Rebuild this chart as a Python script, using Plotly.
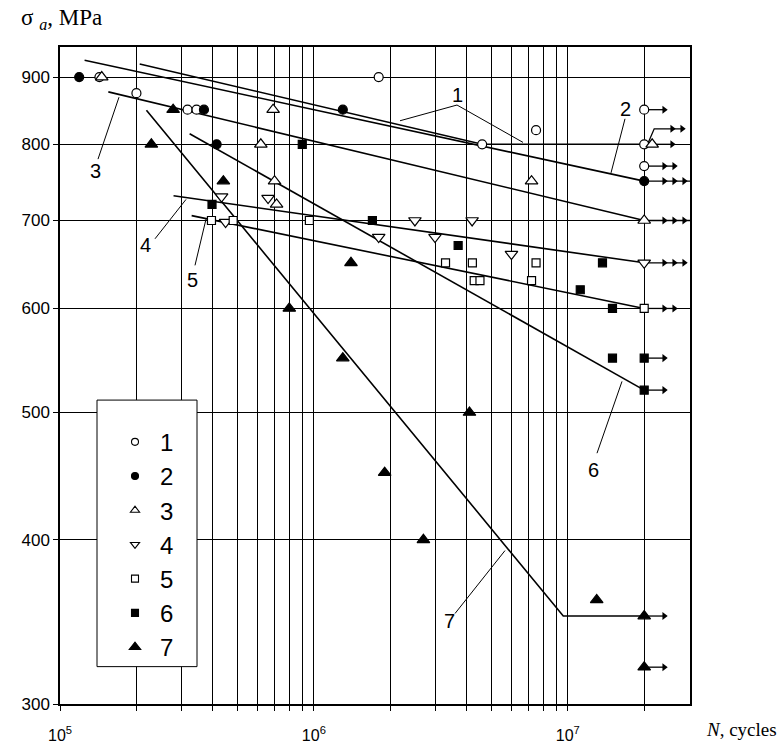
import numpy as np
import plotly.graph_objects as go

# ---------------- data ----------------
# series 1 : open circles
s1_N = [1.43e5, 2.0e5, 3.18e5, 3.45e5, 1.8e6, 4.6e6, 7.5e6, 2.0e7, 2.0e7, 2.0e7]
s1_S = [900, 875, 850, 850, 900, 800, 820, 850, 800, 770]
# series 2 : filled circles
s2_N = [1.19e5, 3.69e5, 4.14e5, 1.3e6, 2.0e7]
s2_S = [900, 850, 800, 850, 750]
# series 3 : open triangles up
s3_N = [1.46e5, 6.18e5, 6.91e5, 7.0e5, 7.13e5, 7.2e6, 2.15e7, 2.0e7]
s3_S = [900, 800, 850, 750, 720, 750, 800, 700]
# series 4 : open triangles down
s4_N = [4.33e5, 4.49e5, 6.6e5, 1.8e6, 2.5e6, 3.0e6, 4.2e6, 6.0e6, 2.0e7]
s4_S = [730, 698, 728, 680, 700, 680, 700, 660, 650]
# series 5 : open squares
s5_N = [3.95e5, 4.81e5, 9.6e5, 3.3e6, 4.21e6, 4.28e6, 4.51e6, 7.2e6, 7.5e6, 2.0e7]
s5_S = [700, 700, 700, 650, 650, 630, 630, 630, 650, 600]
# series 6 : filled squares
s6_N = [3.97e5, 9.0e5, 1.7e6, 3.7e6, 1.12e7, 1.37e7, 1.5e7, 1.5e7, 2.0e7, 2.0e7]
s6_S = [720, 800, 700, 670, 620, 650, 600, 550, 550, 520]
# series 7 : filled triangles up
s7_N = [2.29e5, 2.79e5, 4.4e5, 8.0e5, 1.3e6, 1.4e6, 1.9e6, 2.7e6, 4.1e6, 1.3e7, 2.0e7, 2.0e7]
s7_S = [800, 850, 750, 600, 550, 650, 450, 400, 500, 360, 350, 320]

series_names = ["1", "2", "3", "4", "5", "6", "7"]

# fitted S-N curves (knots)
c1_N = [2.06e5, 4.6e6, 2.0e7]; c1_S = [921, 800, 800]
c2_N = [1.25e5, 2.0e7];        c2_S = [927, 750]
c3_N = [1.55e5, 2.0e7];        c3_S = [877, 700]
c4_N = [2.8e5, 2.0e7];         c4_S = [731, 650]
c5_N = [3.3e5, 2.0e7];         c5_S = [706, 600]
c6_N = [3.24e5, 2.0e7];        c6_S = [815, 520]
c7_N = [2.19e5, 9.6e6, 2.0e7]; c7_S = [849, 350, 350]

# run-outs (specimens not broken): N, stress, number of arrow heads
run_N = [2.0e7, 2.15e7, 2.0e7, 2.0e7, 2.0e7, 2.0e7, 2.0e7, 2.0e7, 2.0e7, 2.0e7, 2.0e7]
run_S = [850, 800, 770, 750, 700, 650, 600, 550, 520, 350, 320]
run_heads = [1, 1, 2, 4, 4, 3, 2, 1, 1, 1, 1]
raised_run = (2.0e7, 800, 822, 2)  # run-out drawn with a bent leader above

x_ticks_major = [1e5, 1e6, 1e7]
y_ticks = [300, 400, 500, 600, 700, 800, 900]

# ---------------- layout geometry ----------------
W, H = 779, 756
ML, MR, MT, MB = 60, 89, 47, 41
PW, PH = W - ML - MR, H - MT - MB
X_MIN, X_MAX = 1e5, 3.03e7
Y_MIN, Y_MAX = 300, 948.7
dec_px = PW / (np.log10(X_MAX) - np.log10(X_MIN))


def shift(n, px):
    return n * 10 ** (px / dec_px)


def pp(px, py):
    return (px - ML) / PW, (H - MB - py) / PH


fig = go.Figure()

# curves
for cn, cs in [(c1_N, c1_S), (c2_N, c2_S), (c3_N, c3_S), (c4_N, c4_S),
               (c5_N, c5_S), (c6_N, c6_S), (c7_N, c7_S)]:
    fig.add_trace(go.Scatter(x=cn, y=cs, mode="lines",
                             line=dict(color="black", width=1.6),
                             showlegend=False, hoverinfo="skip"))

# run-out arrows
for n, s, k in zip(run_N, run_S, run_heads):
    end = 12 + 10 * k
    fig.add_trace(go.Scatter(x=[shift(n, 4), shift(n, end)], y=[s, s], mode="lines",
                             line=dict(color="black", width=1.3),
                             showlegend=False, hoverinfo="skip"))
    fig.add_trace(go.Scatter(x=[shift(n, end - 2 - 10 * i) for i in range(k)], y=[s] * k,
                             mode="markers",
                             marker=dict(symbol="triangle-right", size=7, color="black"),
                             showlegend=False, hoverinfo="skip"))
rn, rs0, rs1, rk = raised_run
fig.add_trace(go.Scatter(x=[shift(rn, 4), shift(rn, 10), shift(rn, 40)], y=[rs0 + 2, rs1, rs1],
                         mode="lines", line=dict(color="black", width=1.3),
                         showlegend=False, hoverinfo="skip"))
fig.add_trace(go.Scatter(x=[shift(rn, 38 - 10 * i) for i in range(rk)], y=[rs1] * rk,
                         mode="markers", marker=dict(symbol="triangle-right", size=7, color="black"),
                         showlegend=False, hoverinfo="skip"))

# data markers (plot) and smaller legend symbols
styles = [("circle", "white", 9, 7), ("circle", "black", 9, 7), ("triangle-up", "white", 11, 8),
          ("triangle-down", "white", 11, 8), ("square", "white", 8, 7), ("square", "black", 8, 7),
          ("triangle-up", "black", 11, 10)]
all_N = [s1_N, s2_N, s3_N, s4_N, s5_N, s6_N, s7_N]
all_S = [s1_S, s2_S, s3_S, s4_S, s5_S, s6_S, s7_S]
for name, xs, ys, (sym, fill, size, lsize) in zip(series_names, all_N, all_S, styles):
    fig.add_trace(go.Scatter(x=xs, y=ys, mode="markers", name=name,
                             showlegend=False,
                             marker=dict(symbol=sym, size=size, color=fill,
                                         line=dict(color="black", width=1.2))))
    fig.add_trace(go.Scatter(x=[None], y=[None], mode="markers", name=name,
                             showlegend=True,
                             marker=dict(symbol=sym, size=lsize, color=fill,
                                         line=dict(color="black", width=1.1))))

# curve labels with leader lines (pixel positions)
labels = [("1", 457, 96), ("2", 625, 110), ("3", 95, 173), ("4", 145, 248),
          ("5", 192, 284), ("6", 593, 477), ("7", 449, 631)]
leaders = [((457, 106), (400, 122)), ((457, 106), (523, 144)), ((625, 120), (611, 175)),
           ((98, 161), (119, 98)), ((155, 242), (186, 202)), ((195, 269), (206, 222)),
           ((597, 460), (622, 387)), ((455, 623), (505, 559))]
shapes = []
for (a, b) in leaders:
    x0, y0 = pp(*a)
    x1, y1 = pp(*b)
    shapes.append(dict(type="line", xref="paper", yref="paper", x0=x0, y0=y0, x1=x1, y1=y1,
                       line=dict(color="black", width=1)))
# legend box
bx0, by0 = pp(97, 677)
bx1, by1 = pp(197, 406)
shapes.append(dict(type="rect", xref="paper", yref="paper", x0=bx0, y0=by0, x1=bx1, y1=by1,
                   fillcolor="white", line=dict(color="black", width=1), layer="above"))

annotations = []
for t, x, y in labels:
    px, py = pp(x, y)
    annotations.append(dict(text=t, x=px, y=py, xref="paper", yref="paper", showarrow=False,
                            xanchor="center", yanchor="middle",
                            font=dict(family="Liberation Sans, Arial", size=20, color="black")))
tx, ty = pp(19, 19)
annotations.append(dict(text="σ <sub><i>a</i></sub>, MPa", x=tx, y=ty, xref="paper", yref="paper",
                        showarrow=False, xanchor="left", yanchor="middle",
                        font=dict(family="Liberation Serif, Times New Roman", size=23, color="black")))
nx, ny = pp(704, 741)
annotations.append(dict(text="<i>N</i>, cycles", x=nx, y=ny, xref="paper", yref="paper",
                        showarrow=False, xanchor="left", yanchor="middle",
                        font=dict(family="Liberation Serif, Times New Roman", size=19, color="black")))

x_tickvals = [m * d for d in (1e5, 1e6) for m in range(1, 10)] + [1e7, 2e7]
x_ticktext = [("10<sup>%d</sup>" % int(round(np.log10(v)))) if v in x_ticks_major else ""
              for v in x_tickvals]

lx, ly = pp(110, 426)
fig.update_layout(
    width=W, height=H, margin=dict(l=ML, r=MR, t=MT, b=MB),
    paper_bgcolor="white", plot_bgcolor="white",
    showlegend=True,
    legend=dict(x=lx, y=ly, xanchor="left", yanchor="top", bgcolor="rgba(0,0,0,0)",
                borderwidth=0, font=dict(family="Liberation Sans, Arial", size=24, color="black"),
                itemwidth=40, tracegroupgap=0),
    shapes=shapes, annotations=annotations,
    xaxis=dict(type="log", range=[np.log10(X_MIN), np.log10(X_MAX)],
               tickmode="array", tickvals=x_tickvals, ticktext=x_ticktext,
               showgrid=True, gridcolor="black", gridwidth=1.3,
               showline=True, mirror=True, linecolor="black", linewidth=1.5,
               ticks="outside", ticklen=5, tickcolor="black", ticklabelstandoff=11,
               tickfont=dict(family="Liberation Sans, Arial", size=16, color="black"),
               zeroline=False),
    yaxis=dict(type="log", range=[np.log10(Y_MIN), np.log10(Y_MAX)],
               tickmode="array", tickvals=y_ticks, ticktext=[str(v) for v in y_ticks],
               showgrid=True, gridcolor="black", gridwidth=1.3,
               showline=True, mirror=True, linecolor="black", linewidth=1.5,
               ticks="outside", ticklen=5, tickcolor="black",
               tickfont=dict(family="Liberation Sans, Arial", size=17, color="black"),
               zeroline=False),
)

fig.write_html("out.html")
